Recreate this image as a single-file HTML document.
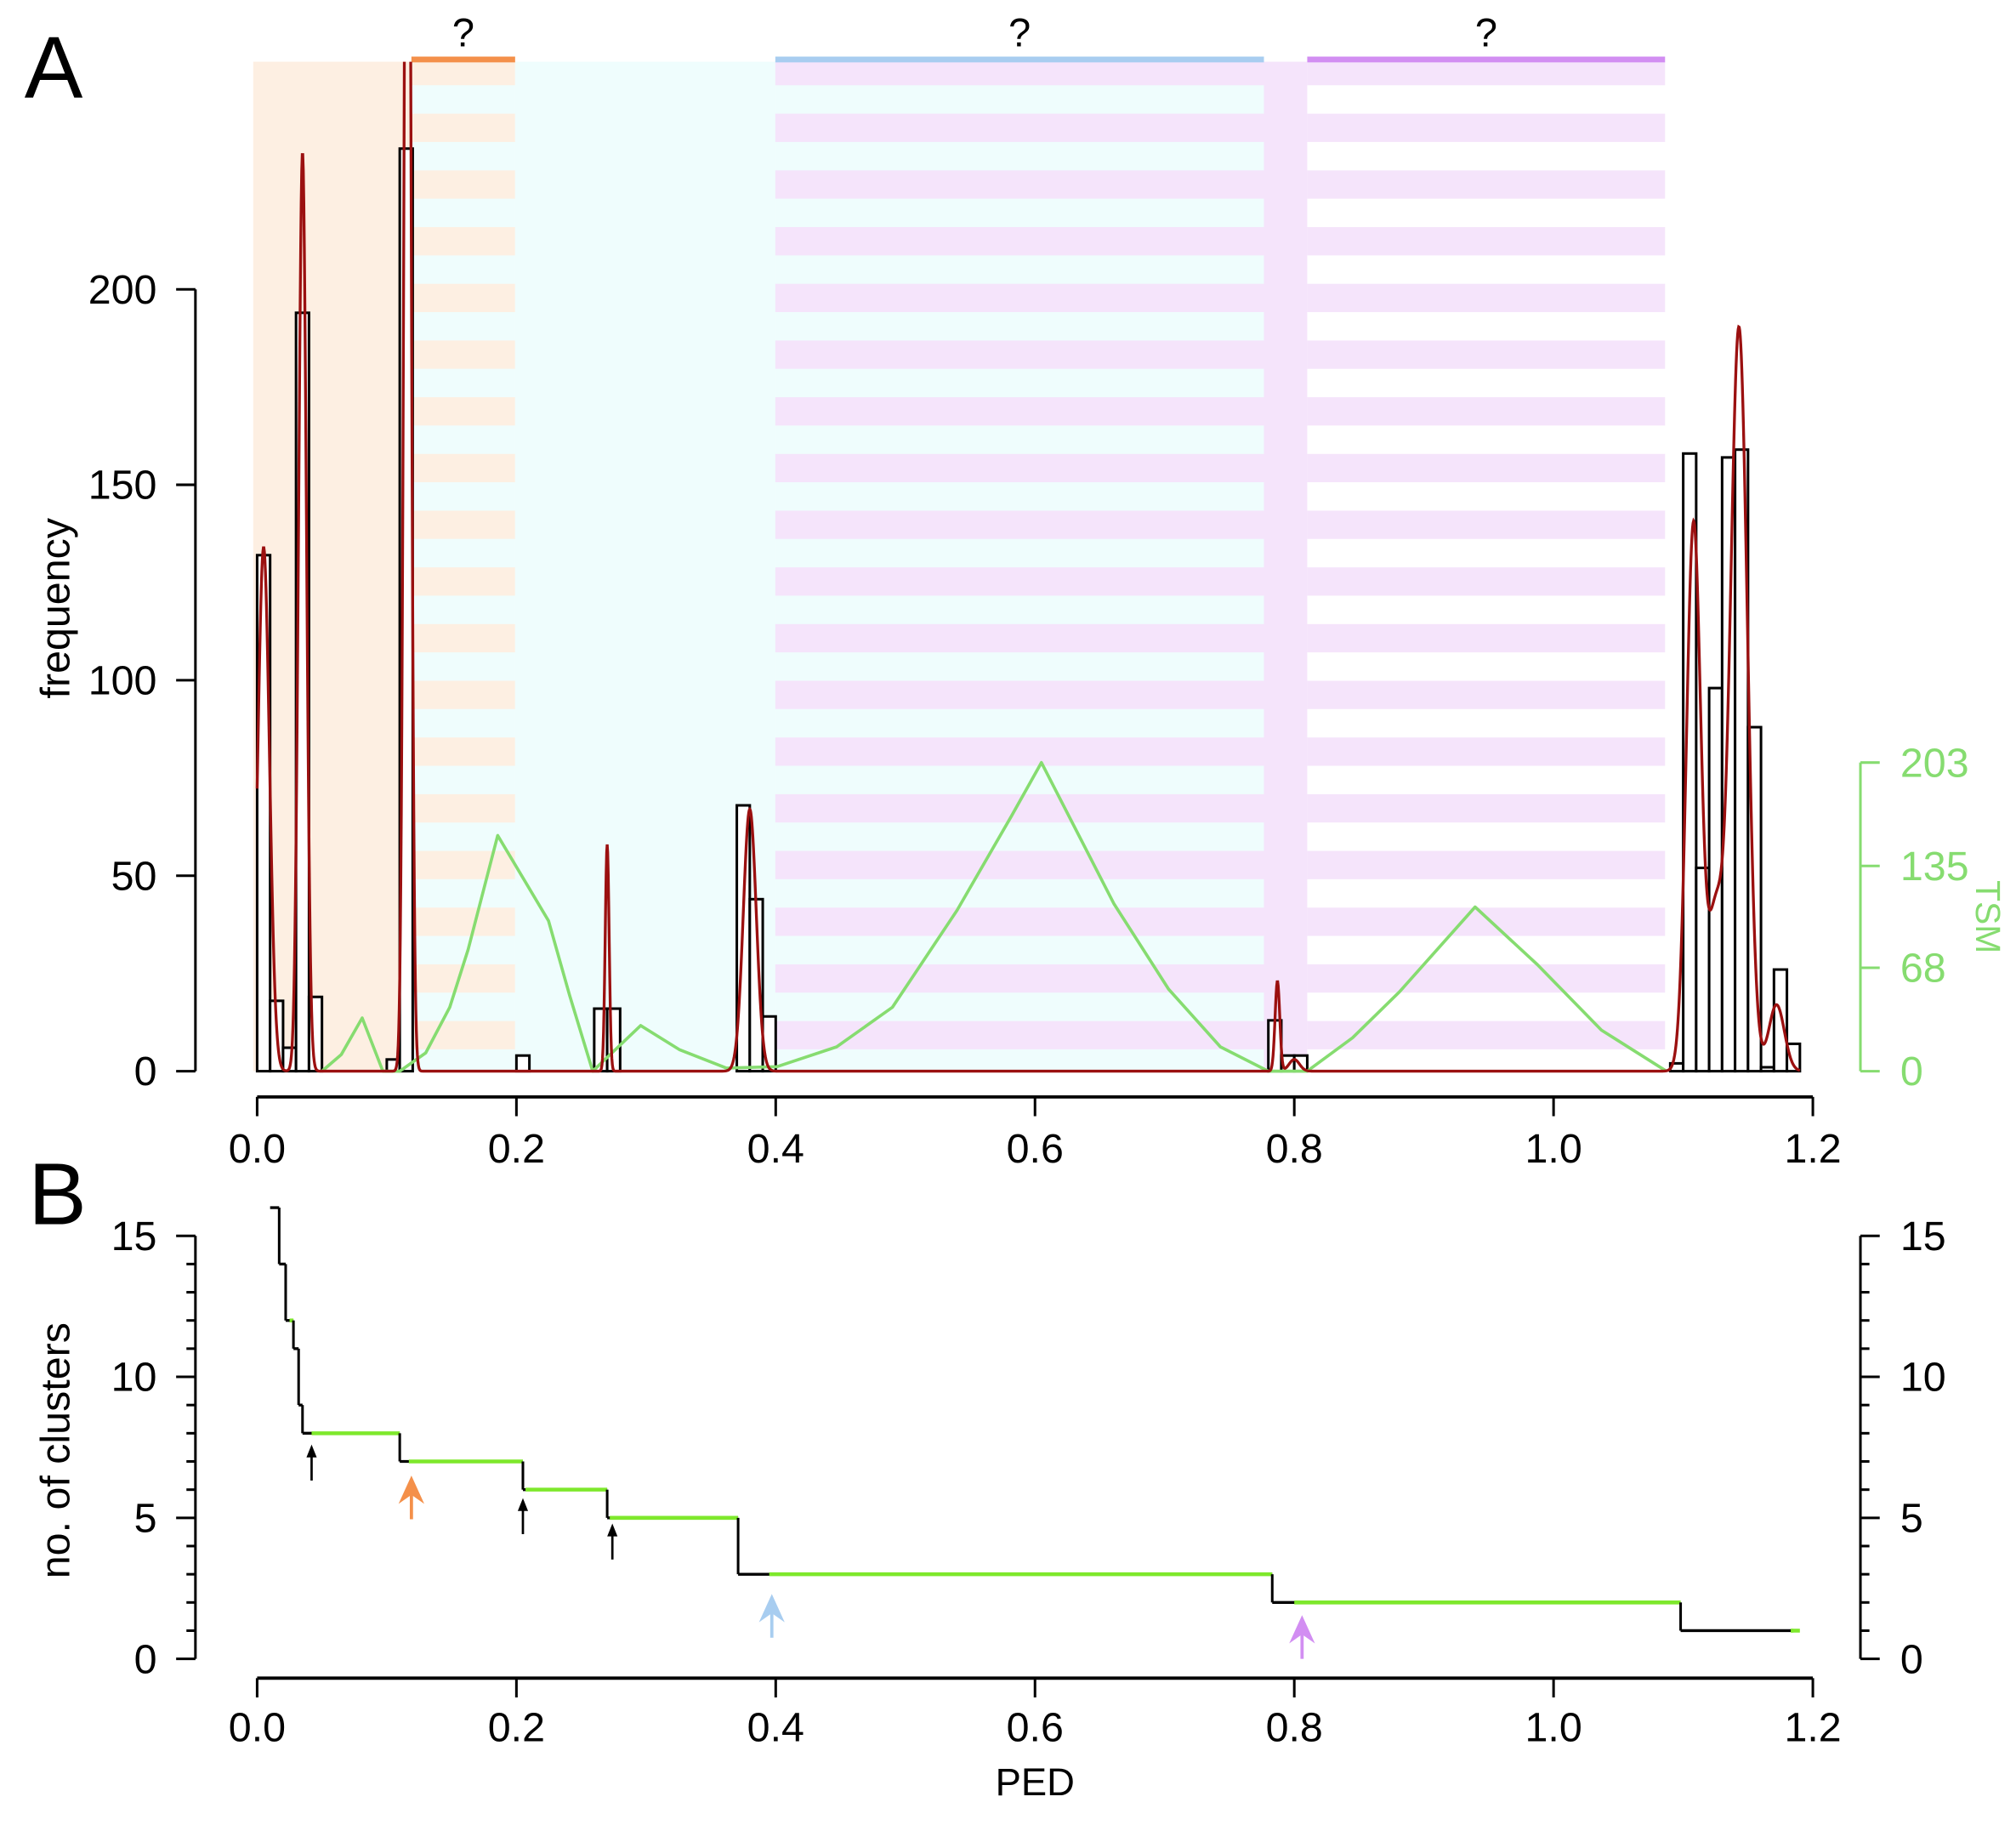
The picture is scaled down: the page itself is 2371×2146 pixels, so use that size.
<!DOCTYPE html>
<html><head><meta charset="utf-8"><style>
html,body{margin:0;padding:0;background:#fff;}
svg{display:block;font-family:"Liberation Sans",Arial,sans-serif;}
</style></head><body>
<svg id="fig" width="2371" height="2146" viewBox="0 0 1568 1419.2" xmlns="http://www.w3.org/2000/svg">
<g id="bg"></g>
<g id="panelA"></g>
<g id="panelB"></g>
</svg>
<script>
// ---- Panel A data ----
const histBinStarts = [0.00,0.01,0.02,0.03,0.04,0.10,0.11,0.20,0.26,0.27,0.37,0.38,0.39,0.78,0.79,0.80,1.09,1.10,1.11,1.12,1.13,1.14,1.15,1.16,1.17,1.18];
const histCounts    = [132, 18,  6,   194, 19,  3,   236, 4,   16,  16,  68,  44,  14,  13,  4,   4,   2,   158, 52,  98,  157, 159, 88,  1,   26,  7];
const densCenters = [0.005,0.035,0.116,0.270,0.380,0.787,0.800,1.108,1.125,1.143,1.172];
const densHeights = [134,  235,  420,  58,   67,   23,   3,    140,  40,   190,  17];
const densWidths  = [0.0045,0.003,0.0025,0.0015,0.005,0.0018,0.004,0.0055,0.006,0.0065,0.006];
const tsmX = [0.05,0.065,0.081,0.097,0.11,0.13,0.1486,0.1627,0.1856,0.2247,0.241,0.2588,0.2958,0.326,0.362,0.401,0.447,0.490,0.540,0.582,0.605,0.661,0.703,0.743,0.780,0.81,0.845,0.881,0.9395,0.9876,1.037,1.087];
const tsmY = [0,   11,   35,   0,    0,   12,  42,    80,    155,   99,    50,   0,     30,    14,   2,    3,    16,   42,   106,  168,  203,  110,  54,   16,   0,    0,   22,   52,   108,   70,    27,   0];
const freqTicks = [0,50,100,150,200];
const tsmTicks = [0,68,135,203];
const xTicks = [0.0,0.2,0.4,0.6,0.8,1.0,1.2];
const xTickLabels = ["0.0","0.2","0.4","0.6","0.8","1.0","1.2"];
// cluster regions
const regionStarts = [-0.003,0.119,0.199,0.3997,0.7766,0.810];
const regionEnds   = [0.119,0.199,0.3997,0.7766,0.810,1.086];
const regionBase   = ["#fdefe2","#effdfd","#effdfd","#effdfd","#f5e4fb","#ffffff"];
const regionStripe = [null,"#fdefe2",null,"#f5e4fb",null,"#f5e4fb"];
const barStarts = [0.119,0.3997,0.810];
const barEnds   = [0.199,0.7766,1.086];
const barColors = ["#f4904a","#a8cdf0","#d28ef2"];
// ---- Panel B data ----
const stepX = [0.010,0.017,0.022,0.028,0.032,0.035,0.110,0.205,0.270,0.371,0.783,1.098,1.185];
const stepN = [16,   14,   12,   11,   9,    8,    7,    6,    5,    3,    2,    1,    1];
const greenStart = [null,null,0.025,null,null,0.042,0.117,0.207,0.272,0.395,0.800,1.183,null];
const clusterTicks = [0,5,10,15];
const arrowX = [0.042,0.119,0.205,0.274,0.397,0.806];
const arrowN = [7.6,6.5,5.7,4.8,2.3,1.55];
const arrowColors = ["#000","#f4904a","#000","#000","#a8cdf0","#d28ef2"];
const arrowBig = [false,true,false,false,true,true];

const NS="http://www.w3.org/2000/svg";
function mk(parent,tag,attrs,text){const e=document.createElementNS(NS,tag);for(const k in attrs)e.setAttribute(k,attrs[k]);if(text!==undefined)e.textContent=text;parent.appendChild(e);return e;}
const xS=v=>200+v*1008.33;
const yA=f=>833-f*3.04;
const yT=t=>833-t*240/203;
const yB=n=>1290-n*21.93;
const bg=document.getElementById('bg'), A=document.getElementById('panelA'), B=document.getElementById('panelB');
const TOP=48, BOT=833;

// backgrounds
for(let i=0;i<regionStarts.length;i++){
  const x0=xS(regionStarts[i]), x1=xS(regionEnds[i]);
  const r=mk(bg,'rect',{x:x0,y:TOP,width:x1-x0,height:BOT-TOP,fill:regionBase[i]});
  
  
  if(regionStripe[i]){
    for(let k=0;k<19;k++){
      let y0=44.3+k*44.1, y1=y0+22;
      y0=Math.max(y0,TOP); y1=Math.min(y1,BOT);
      if(y1<=y0) continue;
      const s=mk(bg,'rect',{x:x0,y:y0,width:x1-x0,height:y1-y0,fill:regionStripe[i]});
      
      
    }
  }
}
for(let i=0;i<barStarts.length;i++){
  const b=mk(bg,'rect',{x:xS(barStarts[i]),y:44,width:xS(barEnds[i])-xS(barStarts[i]),height:4.5,fill:barColors[i]});
  
  
  const q=mk(bg,'text',{x:(xS(barStarts[i])+xS(barEnds[i]))/2,y:36,'font-size':31,'text-anchor':'middle',fill:'#000'},'?');
  
  
}

// histogram bars
const bw=0.01;
for(let i=0;i<histBinStarts.length;i++){
  const x0=xS(histBinStarts[i]), x1=xS(histBinStarts[i]+bw);
  const r=mk(A,'rect',{x:x0,y:yA(histCounts[i]),width:x1-x0,height:833-yA(histCounts[i]),fill:'#fff',stroke:'#000','stroke-width':2});
  
  
}
// TSM line
let tp='';
for(let i=0;i<tsmX.length;i++) tp+=(i?'L':'M')+xS(tsmX[i]).toFixed(1)+','+yT(tsmY[i]).toFixed(1);
const tl=mk(A,'path',{d:tp,fill:'none',stroke:'#86dc70','stroke-width':2.4,'stroke-linejoin':'round'});


// density curve
mk(A,'clipPath',{id:'clipA'}).appendChild(document.createElementNS(NS,'rect'));
const cr=document.querySelector('#clipA rect');cr.setAttribute('x',190);cr.setAttribute('y',TOP);cr.setAttribute('width',1250);cr.setAttribute('height',BOT-TOP+2);
let dp='';
for(let v=0;v<=1.19;v+=0.0004){
  let d=0;for(let j=0;j<densCenters.length;j++){const z=(v-densCenters[j])/densWidths[j];d+=densHeights[j]*Math.exp(-0.5*z*z);}
  dp+=(dp?'L':'M')+xS(v).toFixed(2)+','+yA(d).toFixed(2);
}
const dl=mk(A,'path',{d:dp,fill:'none',stroke:'#9b1010','stroke-width':2.2,'clip-path':'url(#clipA)'});



// axes A
const ya=mk(A,'line',{x1:152,y1:yA(200),x2:152,y2:yA(0),stroke:'#000','stroke-width':2});


freqTicks.forEach(t=>{
  mk(A,'line',{x1:137,y1:yA(t),x2:152,y2:yA(t),stroke:'#000','stroke-width':2});
  const l=mk(A,'text',{x:122,y:yA(t)+11,'font-size':32,'text-anchor':'end'},String(t));
  
  
});
const yl=mk(A,'text',{transform:'translate(54,473) rotate(-90)','font-size':32,'text-anchor':'middle'},'frequency');


function xAxis(g,y,labY){
  const ax=mk(g,'line',{x1:xS(0),y1:y,x2:xS(1.2),y2:y,stroke:'#000','stroke-width':2.5});
  
  
  xTicks.forEach((t,i)=>{
    mk(g,'line',{x1:xS(t),y1:y,x2:xS(t),y2:y+15,stroke:'#000','stroke-width':2});
    const l=mk(g,'text',{x:xS(t),y:labY,'font-size':32,'text-anchor':'middle'},xTickLabels[i]);
    
    
  });
}
xAxis(A,853,904);
// TSM axis
const ta=mk(A,'line',{x1:1447,y1:yT(203),x2:1447,y2:yT(0),stroke:'#86dc70','stroke-width':2});


tsmTicks.forEach(t=>{
  mk(A,'line',{x1:1447,y1:yT(t),x2:1462,y2:yT(t),stroke:'#86dc70','stroke-width':2});
  const l=mk(A,'text',{x:1478,y:yT(t)+11,'font-size':32,fill:'#86dc70'},String(t));
  
  
});
const tt=mk(A,'text',{transform:'translate(1537,713) rotate(90)','font-size':27,'text-anchor':'middle',fill:'#86dc70'},'TSM');


const la=mk(A,'text',{x:19,y:76,'font-size':68},'A');



// ---- Panel B ----
[152,1447].forEach((ax,side)=>{
  const a=mk(B,'line',{x1:ax,y1:yB(15),x2:ax,y2:yB(0),stroke:'#000','stroke-width':2});
  
  
  for(let n=0;n<=15;n++){
    const len=clusterTicks.includes(n)?15:7;
    mk(B,'line',{x1:side?ax:ax-len,y1:yB(n),x2:side?ax+len:ax,y2:yB(n),stroke:'#000','stroke-width':2});
  }
  clusterTicks.forEach(t=>{
    const l=mk(B,'text',{x:side?1478:122,y:yB(t)+11,'font-size':32,'text-anchor':side?'start':'end'},String(t));
    
    
  });
});
xAxis(B,1305,1354);
const bt=mk(B,'text',{transform:'translate(54,1128) rotate(-90)','font-size':32,'text-anchor':'middle'},'no. of clusters');


const pt=mk(B,'text',{x:805,y:1396,'font-size':30,'text-anchor':'middle'},'PED');


const lb=mk(B,'text',{x:22,y:952,'font-size':68},'B');


// steps
for(let i=0;i<stepX.length-1;i++){
  const x0=xS(stepX[i]), x1=xS(stepX[i+1]), y=yB(stepN[i]);
  const h=mk(B,'line',{x1:x0,y1:y,x2:x1,y2:y,stroke:'#000','stroke-width':2.2});
  
  
  if(greenStart[i]!==null){
    const g=mk(B,'line',{x1:xS(greenStart[i]),y1:y,x2:x1,y2:y,stroke:'#7ee82c','stroke-width':3});
    
    
  }
  const v=mk(B,'line',{x1:x1,y1:y,x2:x1,y2:yB(stepN[i+1]),stroke:'#000','stroke-width':2});
  
  
}
const gd=mk(B,'line',{x1:xS(1.183),y1:yB(1),x2:xS(1.19),y2:yB(1),stroke:'#7ee82c','stroke-width':3});


// arrows
for(let i=0;i<arrowX.length;i++){
  const x=xS(arrowX[i]), tip=yB(arrowN[i]), c=arrowColors[i];
  const ar=mk(B,'g',{});
  
  
  if(arrowBig[i]){
    mk(ar,'line',{x1:x,y1:tip+10,x2:x,y2:tip+34,stroke:c,'stroke-width':2.5});
    mk(ar,'path',{d:`M${x},${tip}L${x-10},${tip+22}L${x},${tip+15}L${x+10},${tip+22}Z`,fill:c});
  }else{
    mk(ar,'line',{x1:x,y1:tip+4,x2:x,y2:tip+28,stroke:c,'stroke-width':1.8});
    mk(ar,'path',{d:`M${x},${tip}L${x-4},${tip+10}L${x+4},${tip+10}Z`,fill:c});
  }
}
</script>
</body></html>
